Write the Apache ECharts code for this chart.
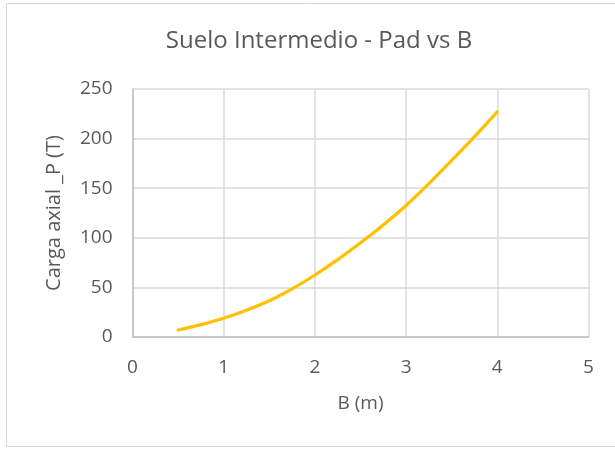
<!DOCTYPE html>
<html>
<head>
<meta charset="utf-8">
<script src="https://cdn.jsdelivr.net/npm/echarts@6/dist/echarts.min.js"></script>
<style>
  html, body { margin: 0; padding: 0; background: #ffffff; }
  #chart { width: 615px; height: 449px; }
</style>
</head>
<body>
<div id="chart"></div>
<script>
// Footing width B (m) and allowable axial load P (T)
const anchoB = [0.5, 0.75, 1.0, 1.25, 1.5, 1.75, 2.0, 2.25, 2.5, 2.75, 3.0, 3.25, 3.5, 3.75, 4.0];
const cargaP = [7, 12.5, 19, 27, 36.5, 48.5, 62.5, 78, 95, 113, 132.5, 154.5, 178, 202, 227];

const xTicks = [0, 1, 2, 3, 4, 5];
const yTicks = [0, 50, 100, 150, 200, 250];

const titulo = 'Suelo Intermedio - Pad vs B';
const tituloX = 'B (m)';
const tituloY = 'Carga axial _P (T)';

const fuente = '"Open Sans", "Noto Sans", sans-serif';
const gris = '#595959';

const chart = echarts.init(document.getElementById('chart'), null, { renderer: 'canvas' });

chart.setOption({
  backgroundColor: '#ffffff',
  animation: false,
  title: {
    text: titulo,
    left: 314,
    top: 24,
    textAlign: 'center',
    textStyle: { fontFamily: fuente, fontSize: 24, fontWeight: 'normal', color: gris }
  },
  graphic: [{
    type: 'rect',
    shape: { x: 6.5, y: 3.5, width: 640, height: 443 },
    style: { fill: 'none', stroke: '#d9d9d9', lineWidth: 1 },
    silent: true
  }],
  grid: { left: 132.5, right: 26.5, top: 89, bottom: 112 },
  xAxis: {
    type: 'value',
    min: xTicks[0],
    max: xTicks[xTicks.length - 1],
    interval: xTicks[1] - xTicks[0],
    name: tituloX,
    nameLocation: 'middle',
    nameGap: 57,
    nameTextStyle: { fontFamily: fuente, fontSize: 19, color: gris },
    axisLine: { show: true, lineStyle: { color: '#bfbfbf', width: 1.5 } },
    axisTick: { show: false },
    axisLabel: { fontFamily: fuente, fontSize: 19, color: gris, margin: 21 },
    splitLine: { show: true, lineStyle: { color: '#d9d9d9', width: 1.5 } }
  },
  yAxis: {
    type: 'value',
    min: yTicks[0],
    max: yTicks[yTicks.length - 1],
    interval: yTicks[1] - yTicks[0],
    name: tituloY,
    nameLocation: 'middle',
    nameGap: 68,
    nameTextStyle: { fontFamily: fuente, fontSize: 20, color: gris },
    axisLine: { show: true, lineStyle: { color: '#bfbfbf', width: 1.5 } },
    axisTick: { show: false },
    axisLabel: { fontFamily: fuente, fontSize: 19, color: gris, margin: 20 },
    splitLine: { show: true, lineStyle: { color: '#d9d9d9', width: 1.5 } }
  },
  series: [{
    type: 'line',
    data: anchoB.map((b, i) => [b, cargaP[i]]),
    smooth: 0.3,
    showSymbol: false,
    lineStyle: { color: '#FFC000', width: 3.2, cap: 'round' },
    itemStyle: { color: '#FFC000' }
  }]
});
</script>
</body>
</html>
